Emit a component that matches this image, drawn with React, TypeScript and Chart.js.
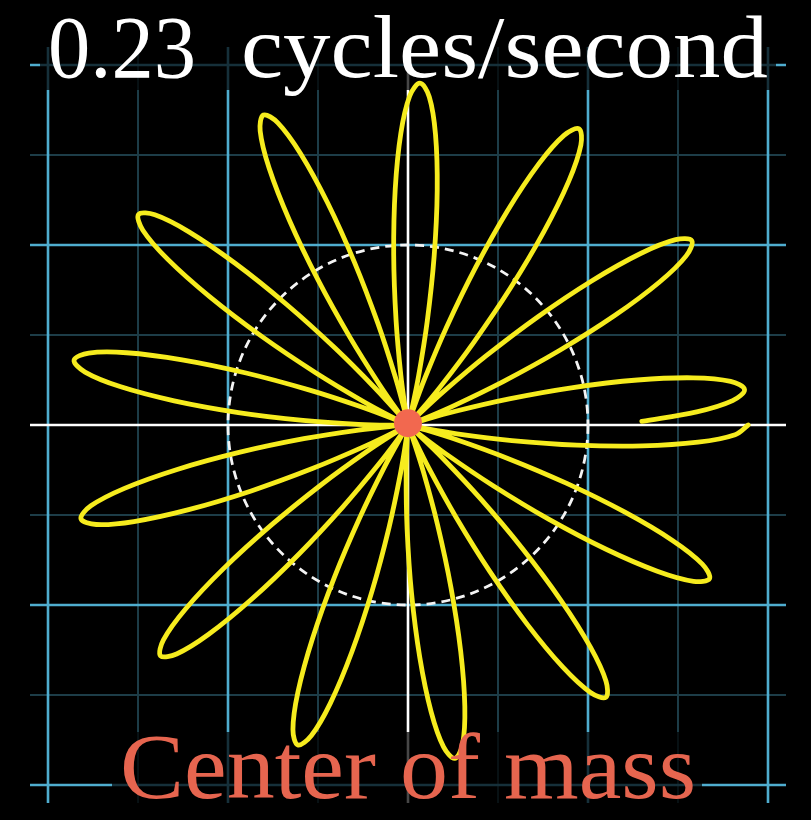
import React, { useEffect, useRef } from "react";
import { Chart, registerables } from "chart.js";

Chart.register(...registerables);

// ---- data ----
const titleValue = "0.23";
const titleUnit = "cycles/second";
const bottomLabel = "Center of mass";

// grid (data units)
const majorGrid = [-2, -1, 1, 2];
const minorGrid = [-1.5, -0.5, 0.5, 1.5];
const gridExtent = 2.1;
const axisExtent = 2.1;
const circleRadius = 1;

// petal tips, in winding order (clockwise): angle in degrees, radius in units
const petalTipAngleDeg = [0, -27, -54, -82, -109, -137, -164, -191, -218, -245, -272, -300, -327, -354];
const petalTipRadius = [1.89, 1.88, 1.87, 1.87, 1.88, 1.88, 1.89, 1.89, 1.9, 1.9, 1.9, 1.9, 1.88, 1.88];

// outline of one petal, read from a single loop: radius fraction and twist (deg) from tip
const petalShapeR = [0, 0.038, 0.146, 0.309, 0.5, 0.691, 0.854, 0.962, 1, 0.962, 0.854, 0.691, 0.5, 0.309, 0.146, 0.038, 0];
const petalShapeTwist = [13.6, 11.9, 10.2, 8.5, 6.8, 5.1, 3.4, 1.7, 0, -1.7, -3.4, -5.1, -6.8, -8.5, -10.2, -11.9, -13.6];
const firstPetalStartStep = 8; // curve starts at the tip of the first petal
const lastPetalEndStep = 11; // curve stops part way back along the last petal

const centerOfMass = { x: 0, y: 0.01 };

// view window (units)
const xRange = [-2.2667, 2.2389];
const yRange = [-2.1944, 2.3611];

// ---- colours ----
const YELLOW = "#F6EC1E";
const BLUE = "#4FADCF";
const MINOR = "#1D3D48";
const RED = "#F2684F";
const TEXT_RED = "#E6654F";

function petalPoint(tipDeg: number, R: number, i: number) {
  const a = ((tipDeg + petalShapeTwist[i]) * Math.PI) / 180;
  const r = R * petalShapeR[i];
  return { x: r * Math.cos(a), y: r * Math.sin(a) };
}

function buildCurve() {
  const pts: { x: number; y: number }[] = [];
  const n = petalTipAngleDeg.length;
  for (let k = 0; k < n; k++) {
    const start = k === 0 ? firstPetalStartStep : 1;
    const end = k === n - 1 ? lastPetalEndStep : petalShapeR.length - 1;
    for (let i = start; i <= end; i++) pts.push(petalPoint(petalTipAngleDeg[k], petalTipRadius[k], i));
  }
  return pts;
}

function lineDs(data: { x: number; y: number }[], color: string, width: number, order: number) {
  return {
    type: "scatter" as const,
    data,
    showLine: true,
    borderColor: color,
    borderWidth: width,
    pointRadius: 0,
    order,
    label: "grid",
  };
}

export default function App() {
  const ref = useRef<HTMLCanvasElement | null>(null);

  useEffect(() => {
    document.body.style.margin = "0";
    document.body.style.background = "#000";
    const canvas = ref.current!;
    const datasets: any[] = [];
    minorGrid.forEach((v) => {
      datasets.push(lineDs([{ x: v, y: -gridExtent }, { x: v, y: gridExtent }], MINOR, 2, 12));
      datasets.push(lineDs([{ x: -gridExtent, y: v }, { x: gridExtent, y: v }], MINOR, 2, 12));
    });
    majorGrid.forEach((v) => {
      datasets.push(lineDs([{ x: v, y: -gridExtent }, { x: v, y: gridExtent }], BLUE, 2.6, 10));
      datasets.push(lineDs([{ x: -gridExtent, y: v }, { x: gridExtent, y: v }], BLUE, 2.6, 10));
    });
    datasets.push(lineDs([{ x: 0, y: -axisExtent }, { x: 0, y: axisExtent }], "#FFFFFF", 2.6, 8));
    datasets.push(lineDs([{ x: -axisExtent, y: 0 }, { x: axisExtent, y: 0 }], "#FFFFFF", 2.6, 8));
    datasets.push({
      type: "scatter",
      label: "curve",
      data: buildCurve(),
      showLine: true,
      borderColor: YELLOW,
      borderWidth: 4.8,
      tension: 0.35,
      pointRadius: 0,
      borderJoinStyle: "round",
      borderCapStyle: "round",
      order: 2,
    });
    datasets.push({
      type: "scatter",
      label: "com",
      data: [centerOfMass],
      pointRadius: 14,
      pointBackgroundColor: RED,
      pointBorderWidth: 0,
      order: 1,
    });

    const overlay = {
      id: "overlay",
      beforeDatasetDraw(chart: any, args: any) {
        if (chart.data.datasets[args.index].label !== "curve") return;
        const ctx = chart.ctx;
        const xs = chart.scales.x;
        const ys = chart.scales.y;
        const cx = xs.getPixelForValue(0);
        const cy = ys.getPixelForValue(0);
        const rp = xs.getPixelForValue(circleRadius) - cx;
        ctx.save();
        ctx.strokeStyle = "#F4F4F4";
        ctx.lineWidth = 2.8;
        ctx.setLineDash([9, 6]);
        ctx.beginPath();
        ctx.arc(cx, cy, rp, 0, Math.PI * 2);
        ctx.stroke();
        ctx.setLineDash([]);
        ctx.fillStyle = "rgba(0,0,0,0.72)";
        ctx.fillRect(40, 0, 736, 90);
        ctx.fillRect(112, 732, 590, 88);
        ctx.restore();
      },
      afterDatasetsDraw(chart: any) {
        const ctx = chart.ctx;
        const draw = (txt: string, left: number, right: number, base: number, size: number, color: string) => {
          ctx.save();
          ctx.font = `${size}px "Liberation Serif", "DejaVu Serif", serif`;
          const w = ctx.measureText(txt).width;
          ctx.translate(left, base);
          ctx.scale((right - left) / w, 1);
          ctx.fillStyle = color;
          ctx.textBaseline = "alphabetic";
          ctx.fillText(txt, 0, 0);
          ctx.restore();
        };
        draw(titleValue, 48, 196, 77, 88, "#FFFFFF");
        draw(titleUnit, 241, 768, 77, 88, "#FFFFFF");
        draw(bottomLabel, 120, 696, 798, 93, TEXT_RED);
      },
    };

    const chart = new Chart(canvas, {
      type: "scatter",
      data: { datasets },
      options: {
        animation: false,
        responsive: false,
        devicePixelRatio: 1,
        events: [],
        layout: { padding: 0, autoPadding: false },
        plugins: { legend: { display: false }, tooltip: { enabled: false } },
        scales: {
          x: { type: "linear", min: xRange[0], max: xRange[1], display: false },
          y: { type: "linear", min: yRange[0], max: yRange[1], display: false },
        },
      },
      plugins: [overlay],
    });
    return () => chart.destroy();
  }, []);

  return (
    <div style={{ width: 811, height: 820, background: "#000" }}>
      <canvas ref={ref} width={811} height={820} style={{ display: "block" }} />
    </div>
  );
}
